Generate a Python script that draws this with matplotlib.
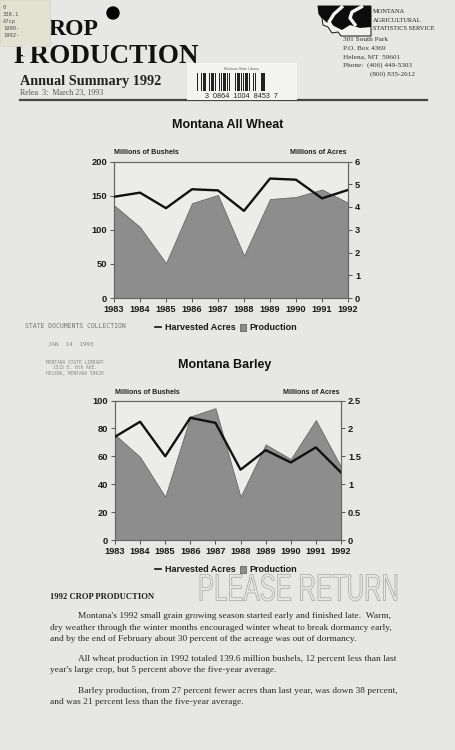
import numpy as np
import matplotlib
matplotlib.use('Agg')
import matplotlib.pyplot as plt
from matplotlib.patches import Rectangle, Polygon, Patch, PathPatch, Ellipse
from matplotlib.lines import Line2D
from matplotlib.textpath import TextPath
from matplotlib.font_manager import FontProperties
from matplotlib.transforms import Affine2D

#data
years = [1983, 1984, 1985, 1986, 1987, 1988, 1989, 1990, 1991, 1992]
year_labels = [str(y) for y in years]

wheat_prod = [136, 104, 51, 139, 151, 62, 145, 148, 159, 139.6]      # million bushels
wheat_acres = [4.45, 4.63, 3.95, 4.78, 4.73, 3.83, 5.25, 5.2, 4.38, 4.75]  # million acres

barley_prod = [75.5, 59.5, 31, 88.5, 94.5, 31, 68.5, 58, 86, 52.5]
barley_acres = [1.85, 2.12, 1.5, 2.19, 2.1, 1.26, 1.61, 1.39, 1.66, 1.21]

wheat_left_ticks = [0, 50, 100, 150, 200]
wheat_right_ticks = [0, 1, 2, 3, 4, 5, 6]
barley_left_ticks = [0, 20, 40, 60, 80, 100]
barley_right_ticks = [0, 0.5, 1, 1.5, 2, 2.5]

W, H = 455, 750
PAGE = '#e7e7e5'
SERIF = 'Liberation Serif'
SANS = 'Liberation Sans'


def fx(x):
    return x / W


def fy(y):
    return 1 - y / H


fig = plt.figure(figsize=(W / 100, H / 100), dpi=100)
fig.patch.set_facecolor(PAGE)


def txt(x, y, s, **kw):
    kw.setdefault('va', 'baseline')
    return fig.text(fx(x), fy(y), s, **kw)


#header (the library sticker hides the start of the title)
txt(14, 63, 'PRODUCTION', family=SERIF, weight='bold', fontsize=19.5, color='#111', zorder=1)
txt(49, 35, 'ROP', family=SERIF, weight='bold', fontsize=17, color='#111', zorder=1)
fig.add_artist(Ellipse((fx(113), fy(13)), 12 / W, 12 / H, transform=fig.transFigure, color='#000'))
fig.add_artist(Rectangle((0, fy(46)), fx(50), 46 / H, transform=fig.transFigure,
                         facecolor='#e3e2d2', edgecolor='#d8d7c4', lw=0.5, zorder=5))
# worn patch over the bowl of the P
fig.add_artist(Rectangle((fx(22.5), fy(56)), 7.5 / W, 11 / H, transform=fig.transFigure,
                         facecolor='#e5e5e2', edgecolor='none', zorder=5))
sticker = ['0', '338.1', 'A7cp', '1990-', '1992-']
for i, s in enumerate(sticker):
    txt(3, 9 + i * 7, s, family='DejaVu Sans Mono', fontsize=4, color='#555', zorder=6)

txt(20, 85, 'Annual Summary 1992', family=SERIF, weight='bold', fontsize=10.3, color='#222')
txt(20, 95, 'Relea  3:  March 23, 1993', family=SERIF, fontsize=5.8, color='#555')
fig.add_artist(Line2D([fx(20), fx(427)], [fy(99.5), fy(99.5)], transform=fig.transFigure,
                      color='#444', lw=1.6))

#barcode label
fig.add_artist(Rectangle((fx(187), fy(100)), 110 / W, 37 / H, transform=fig.transFigure,
                         facecolor='#f4f4f2', edgecolor='none', zorder=3))
txt(241, 70, 'Montana State Library', family=SANS, fontsize=2.5, color='#666', ha='center', zorder=4)
pattern = '21131121231121311221131212113121231211213121122131121311212312113121'
bx = 197.0
for k, c in enumerate(pattern):
    w = int(c) * 0.62
    if k % 2 == 0:
        fig.add_artist(Rectangle((fx(bx), fy(91)), w / W, 18 / H, transform=fig.transFigure,
                                 facecolor='#222', edgecolor='none', zorder=4))
    bx += w
    if bx > 285:
        break
txt(241, 98, '3  0864  1004  8453  7', family=SANS, fontsize=5.2, color='#222', ha='center', zorder=4)

#logo
mt = [(318, 6), (371, 6), (371, 36), (341, 36), (338, 32), (332, 33), (328, 27),
      (323, 25), (322, 18), (319, 14)]
fig.add_artist(Polygon([(fx(a), fy(b)) for a, b in mt], closed=True, transform=fig.transFigure,
                       facecolor='#f2f2f0', edgecolor='#111', lw=0.7, zorder=3))
blk = [(318, 6), (371, 6), (371, 27), (360, 28), (350, 25), (342, 30), (334, 26),
       (326, 22), (322, 18), (319, 14)]
fig.add_artist(Polygon([(fx(a), fy(b)) for a, b in blk], closed=True, transform=fig.transFigure,
                       facecolor='#0c0c0c', edgecolor='none', zorder=4))
for xs, ys in (([343, 334, 329, 334], [6, 14, 22, 30]), ([363, 352, 350, 356], [6, 12, 18, 26])):
    fig.add_artist(Line2D(fx(np.array(xs)), fy(np.array(ys)), transform=fig.transFigure,
                          color='#f2f2f0', lw=2.4, solid_capstyle='butt', zorder=5))

for i, s in enumerate(['MONTANA', 'AGRICULTURAL', 'STATISTICS SERVICE']):
    txt(373, 13 + i * 8.5, s, family=SERIF, fontsize=4.6, color='#222')
addr = ['301 South Park', 'P.O. Box 4369', 'Helena, MT  59601', 'Phone:  (406) 449-5303']
for i, s in enumerate(addr):
    txt(343, 41 + i * 8.6, s, family=SERIF, fontsize=5.2, color='#333')
txt(370, 75.4, '(800) 835-2612', family=SERIF, fontsize=5.2, color='#333')


#charts
def chart(rect, title, ty, prod, acres, lt, rt, rlabels, lab_y, leg_y):
    ax = fig.add_axes(rect)
    ax.set_facecolor('#ececeb')
    ax.fill_between(years, 0, prod, facecolor='#8d8d8d', edgecolor='#6a6a6a', lw=0.6, zorder=2)
    ax.set_xlim(years[0], years[-1])
    ax.set_ylim(lt[0], lt[-1])
    ax.set_yticks(lt)
    ax.set_yticklabels([str(v) for v in lt])
    ax.set_xticks(years)
    ax.set_xticklabels(year_labels)
    ax2 = ax.twinx()
    ax2.plot(years, acres, color='#111', lw=1.7, zorder=3)
    ax2.set_ylim(rt[0], rt[-1])
    ax2.set_yticks(rt)
    ax2.set_yticklabels(rlabels)
    for a in (ax, ax2):
        for sp in a.spines.values():
            sp.set_color('#666')
            sp.set_linewidth(0.8)
        a.tick_params(length=3, width=0.7, color='#555', labelsize=6.7, pad=2, labelcolor='#1a1a1a')
        for lb in a.get_xticklabels() + a.get_yticklabels():
            lb.set_fontweight('bold')
            lb.set_family(SANS)
    l, b, w, h = rect
    fig.text(l + w / 2 - 0.008, fy(ty), title, ha='center', va='baseline', family=SANS,
             weight='bold', fontsize=9, color='#111')
    fig.text(l, fy(lab_y), 'Millions of Bushels', ha='left', va='baseline', family=SANS,
             weight='bold', fontsize=5.1, color='#222')
    fig.text(l + w - 0.003, fy(lab_y), 'Millions of Acres', ha='right', va='baseline', family=SANS,
             weight='bold', fontsize=5.1, color='#222')
    handles = [Line2D([], [], color='#111', lw=1.2),
               Patch(facecolor='#8d8d8d', edgecolor='#555', lw=0.5)]
    leg = ax.legend(handles, ['Harvested Acres', 'Production'], loc='center',
                    bbox_to_anchor=(fx(226), fy(leg_y)), bbox_transform=fig.transFigure,
                    ncol=2, frameon=False, handlelength=0.7, handleheight=0.9,
                    handletextpad=0.4, columnspacing=0.5,
                    prop={'family': SANS, 'weight': 'bold', 'size': 6.5})
    for t in leg.get_texts():
        t.set_color('#1a1a1a')
    return ax


chart([fx(114), fy(298), 234 / W, 136.5 / H], 'Montana All Wheat', 128, wheat_prod, wheat_acres,
      wheat_left_ticks, wheat_right_ticks, [str(v) for v in wheat_right_ticks], 154, 328)
chart([fx(115), fy(540), 226 / W, 139.5 / H], 'Montana Barley', 368, barley_prod, barley_acres,
      barley_left_ticks, barley_right_ticks, ['0', '0.5', '1', '1.5', '2', '2.5'], 394, 570)

#stamps
txt(25, 328, 'STATE DOCUMENTS COLLECTION', family='DejaVu Sans Mono', fontsize=4.7, color='#777')
txt(48, 346, 'JAN  14  1993', family='DejaVu Sans Mono', fontsize=4.2, color='#888')
for i, s in enumerate(['MONTANA STATE LIBRARY', '1515 E. 6th AVE.', 'HELENA, MONTANA 59620']):
    txt(75, 364 + i * 5.5, s, family='DejaVu Sans Mono', fontsize=3.3, color='#888', ha='center')

fp = FontProperties(family=SANS)
tp = TextPath((0, 0), 'PLEASE RETURN', size=10, prop=fp)
ext = tp.get_extents()
x0, x1, yb, yt = 200, 397, 601, 574
tr = (Affine2D().translate(-ext.x0, -ext.y0)
      .scale((x1 - x0) / ext.width / W, (yb - yt) / ext.height / H)
      .translate(fx(x0), fy(yb)) + fig.transFigure)
fig.add_artist(PathPatch(tp, transform=tr, facecolor='none', edgecolor='#ababab', lw=0.55))

#body text
txt(50, 599, '1992 CROP PRODUCTION', family=SERIF, weight='bold', fontsize=6.2, color='#222')
body = [
    (78, 618, "Montana's 1992 small grain growing season started early and finished late.  Warm,"),
    (50, 630, 'dry weather through the winter months encouraged winter wheat to break dormancy early,'),
    (50, 641, 'and by the end of February about 30 percent of the acreage was out of dormancy.'),
    (78, 661, 'All wheat production in 1992 totaled 139.6 million bushels, 12 percent less than last'),
    (50, 672, "year's large crop, but 5 percent above the five-year average."),
    (78, 693, 'Barley production, from 27 percent fewer acres than last year, was down 38 percent,'),
    (50, 704, 'and was 21 percent less than the five-year average.'),
]
for x, y, s in body:
    txt(x, y, s, family=SERIF, fontsize=6.78, color='#2a2a2a')

fig.savefig('out.png', dpi=100, facecolor=PAGE)
